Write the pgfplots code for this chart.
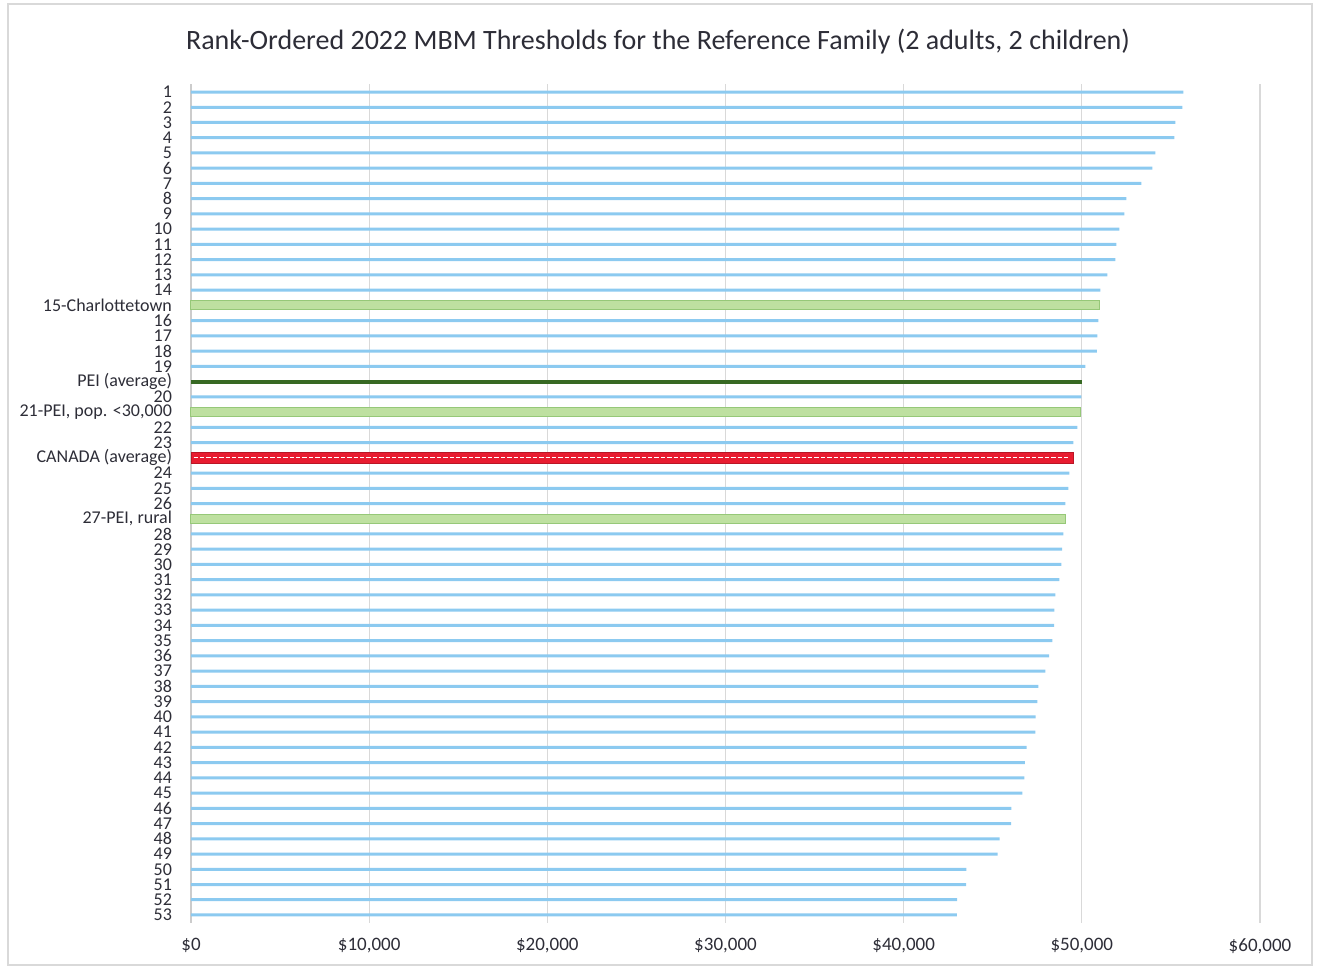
\documentclass[border=0pt]{standalone}
\usepackage{pgfplots}
\pgfplotsset{compat=1.18}
\usepackage{fontspec}
\setmainfont{Carlito}
\definecolor{barblue}{RGB}{140,202,240}
\definecolor{lgreenfill}{RGB}{190,224,160}
\definecolor{lgreenedge}{RGB}{150,200,120}
\definecolor{dgreen}{RGB}{55,105,35}
\definecolor{cred}{RGB}{232,28,48}
\definecolor{txt}{RGB}{45,45,55}
\begin{document}
\begin{tikzpicture}[x=1pt,y=1pt]
\draw[gray!30, line width=0.7pt] (4,1) rectangle (656,481.5);
\node[font=\fontsize{14}{16}\selectfont, text=txt] at (329,462.8) {Rank-Ordered 2022 MBM Thresholds for the Reference Family (2 adults, 2 children)};
\begin{axis}[
  at={(95.5pt,22.2pt)}, anchor=south west,
  scale only axis, width=534.5pt, height=419.1pt,
  xmin=0, xmax=60000, ymin=0.5, ymax=55.5, y dir=reverse,
  axis lines*=left,
  x axis line style={draw=none},
  y axis line style={draw=gray!40, line width=0.6pt},
  xtick={0,10000,20000,30000,40000,50000,60000},
  xticklabels={\$0,{\$10,000},{\$20,000},{\$30,000},{\$40,000},{\$50,000},{\$60,000}},
  ytick={1,...,55},
  yticklabels={1,2,3,4,5,6,7,8,9,10,11,12,13,14,15-Charlottetown,16,17,18,19,PEI (average),20,{21-PEI, pop. <30,000},22,23,CANADA (average),24,25,26,{27-PEI, rural},28,29,30,31,32,33,34,35,36,37,38,39,40,41,42,43,44,45,46,47,48,49,50,51,52,53},
  major tick length=0pt,
  xmajorgrids, grid style={gray!30, line width=0.6pt},
  xticklabel style={font=\fontsize{9.5}{11}\selectfont, text=txt, yshift=-4.5pt},
  yticklabel style={font=\fontsize{9}{9}\selectfont, text=txt, xshift=-6pt},
  clip=false,
]
\addplot[xbar, bar shift=0pt, bar width=1.5pt, fill=barblue, draw=none] coordinates {
(55700,1) (55640,2) (55250,3) (55190,4) (54130,5) (53960,6) (53340,7) (52500,8) (52390,9) (52110,10) (51940,11) (51880,12) (51430,13) (51040,14)
(50930,16) (50870,17) (50850,18) (50200,19)
(49970,21)
(49750,23) (49520,24)
(49300,26) (49240,27) (49070,28)
(48960,30) (48900,31) (48850,32) (48740,33) (48510,34) (48460,35) (48440,36) (48340,37) (48170,38) (47950,39) (47560,40) (47500,41) (47400,42) (47390,43) (46900,44) (46800,45) (46780,46) (46660,47) (46050,48) (46030,49) (45380,50) (45280,51) (43520,52) (43500,53) (43000,54) (42990,55)
};
\addplot[xbar, bar shift=0pt, bar width=4.4pt, fill=lgreenfill, draw=lgreenedge, line width=0.5pt] coordinates {
(51000,15) (49950,22) (49060,29)
};
\addplot[xbar, bar shift=0pt, bar width=2pt, fill=dgreen, draw=none] coordinates {
(50000,20)
};
\addplot[xbar, bar shift=0pt, bar width=5.8pt, fill=cred, draw=cred!80!black, line width=0.4pt] coordinates {
(49500,25)
};
\addplot[white, line width=0.7pt, dash pattern=on 2.2pt off 1pt, forget plot] coordinates {(150,25) (49350,25)};
\end{axis}
\pgfresetboundingbox
\useasboundingbox (0,0) rectangle (658.5,483.5);
\end{tikzpicture}
\end{document}
